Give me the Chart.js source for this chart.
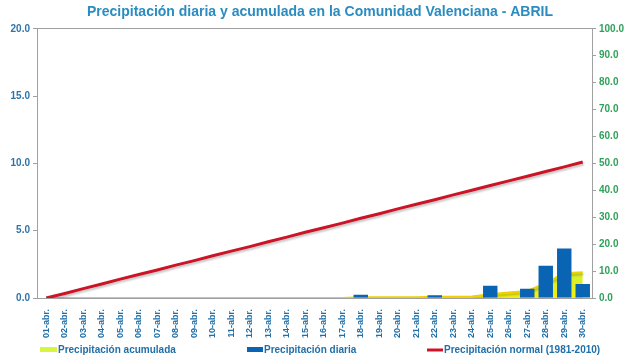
<!DOCTYPE html>
<html><head><meta charset="utf-8">
<script src="https://cdn.jsdelivr.net/npm/chart.js@4"></script>
<style>html,body{margin:0;padding:0;background:#fff;}#wrap{width:640px;height:360px;position:relative;}</style>
</head><body><div id="wrap"><canvas id="c" width="640" height="360"></canvas></div>
<script>
const categories = ["01-abr.","02-abr.","03-abr.","04-abr.","05-abr.","06-abr.","07-abr.","08-abr.","09-abr.","10-abr.","11-abr.","12-abr.","13-abr.","14-abr.","15-abr.","16-abr.","17-abr.","18-abr.","19-abr.","20-abr.","21-abr.","22-abr.","23-abr.","24-abr.","25-abr.","26-abr.","27-abr.","28-abr.","29-abr.","30-abr."];
const dailyPrecip = [0,0,0,0,0,0,0,0,0,0,0,0,0,0,0,0,0,0.25,0,0,0,0.2,0,0,0.91,0,0.69,2.39,3.68,1.04];
const accumulatedPrecip = [0,0,0,0,0,0,0,0,0,0,0,0,0,0,0,0,0,0.25,0.25,0.25,0.25,0.45,0.45,0.6,1.4,2.0,2.6,5.5,9.2,9.6];
const normalPrecip = [0,1.7,3.5,5.2,7.0,8.7,10.4,12.2,13.9,15.7,17.4,19.1,20.9,22.6,24.4,26.1,27.8,29.6,31.3,33.1,34.8,36.5,38.3,40.0,41.8,43.5,45.2,47.0,48.7,50.5];
const leftTicks = [0,5,10,15,20];
const rightTicks = [0,10,20,30,40,50,60,70,80,90,100];
const legendLabels = ["Precipitación acumulada","Precipitación diaria","Precipitación normal (1981-2010)"];

const shadow = {
  id:'shadow',
  beforeDatasetDraw(chart,args){
    const ds = chart.data.datasets[args.index];
    if(ds.shadow){const c=chart.ctx;c.save();c.shadowColor='rgba(0,0,0,0.22)';c.shadowOffsetX=1;c.shadowOffsetY=2;c.shadowBlur=2;}
  },
  afterDatasetDraw(chart,args){
    const ds = chart.data.datasets[args.index];
    if(ds.shadow){chart.ctx.restore();}
  }
};

const customLegend = {
  id:'customLegend',
  afterDraw(chart){
    const c = chart.ctx;
    c.save();
    c.font = 'bold 10px "Liberation Sans"';
    c.fillStyle = '#1f6fa8';
    c.textBaseline = 'middle';
    const y = 350;
    // item 1: area swatch
    c.fillStyle = '#d8f540'; c.fillRect(40,347,17,5);
    c.fillStyle = '#1f6fa8'; c.fillText(legendLabels[0],58,y);
    // item 2: bar swatch
    c.fillStyle = '#0a64b4'; c.fillRect(247,347,16,5);
    c.fillStyle = '#1f6fa8'; c.fillText(legendLabels[1],264,y);
    // item 3: line swatch
    c.strokeStyle = '#cc1426'; c.lineWidth = 3;
    c.beginPath(); c.moveTo(427,y); c.lineTo(443,y); c.stroke();
    c.fillStyle = '#1f6fa8'; c.fillText(legendLabels[2],444,y);
    c.restore();
  }
};

const ctx = document.getElementById('c').getContext('2d');
const grad = ctx.createLinearGradient(0,265,0,298);
grad.addColorStop(0,'#c8f03c');
grad.addColorStop(1,'#f5ee10');

new Chart(ctx,{
  data:{
    labels:categories,
    datasets:[
      {type:'line',label:legendLabels[2],data:normalPrecip,yAxisID:'y1',borderColor:'#cc1426',backgroundColor:'#cc1426',borderWidth:3,pointRadius:0,tension:0,order:0,shadow:true},
      {type:'bar',label:legendLabels[1],data:dailyPrecip,yAxisID:'y',backgroundColor:'#0a64b4',borderColor:'#0a64b4',barPercentage:0.78,categoryPercentage:1,order:1},
      {type:'line',label:legendLabels[0],data:accumulatedPrecip,yAxisID:'y1',borderColor:'#f0d000',backgroundColor:grad,fill:'origin',borderWidth:2,pointRadius:0,tension:0,order:2,shadow:true}
    ]
  },
  options:{
    responsive:false,animation:false,
    layout:{padding:{top:0,left:0,right:0,bottom:20}},
    plugins:{
      title:{display:true,text:'Precipitación diaria y acumulada en la Comunidad Valenciana - ABRIL',color:'#2a8cc0',font:{family:'Liberation Sans',size:14,weight:'bold'},padding:{top:4,bottom:8}},
      legend:{display:false},
      tooltip:{enabled:false}
    },
    scales:{
      x:{offset:true,grid:{display:false,drawTicks:true},border:{color:'#a0a0a0'},
        ticks:{color:'#1f6fa8',font:{family:'Liberation Sans',size:9,weight:'bold'},minRotation:90,maxRotation:90,autoSkip:false,padding:3},
        afterFit(s){s.height=42;}},
      y:{position:'left',min:0,max:20,afterBuildTicks(s){s.ticks=leftTicks.map(v=>({value:v}));},
        grid:{color:(c)=>c.tick&&c.tick.value===20?'#a0a0a0':'rgba(0,0,0,0)',tickColor:'#a0a0a0',tickLength:4,drawOnChartArea:true},
        border:{color:'#a0a0a0'},
        ticks:{color:'#2f74a8',font:{family:'Liberation Sans',size:10,weight:'bold'},callback:v=>v.toFixed(1),padding:3},
        afterFit(s){s.width=37;}},
      y1:{position:'right',min:0,max:100,afterBuildTicks(s){s.ticks=rightTicks.map(v=>({value:v}));},
        grid:{drawOnChartArea:false,tickColor:'#a0a0a0',tickLength:4},
        border:{color:'#a0a0a0'},
        ticks:{color:'#2fa05a',font:{family:'Liberation Sans',size:10,weight:'bold'},callback:v=>v.toFixed(1),padding:3},
        afterFit(s){s.width=48;}}
    }
  },
  plugins:[shadow,customLegend]
});
</script></body></html>
